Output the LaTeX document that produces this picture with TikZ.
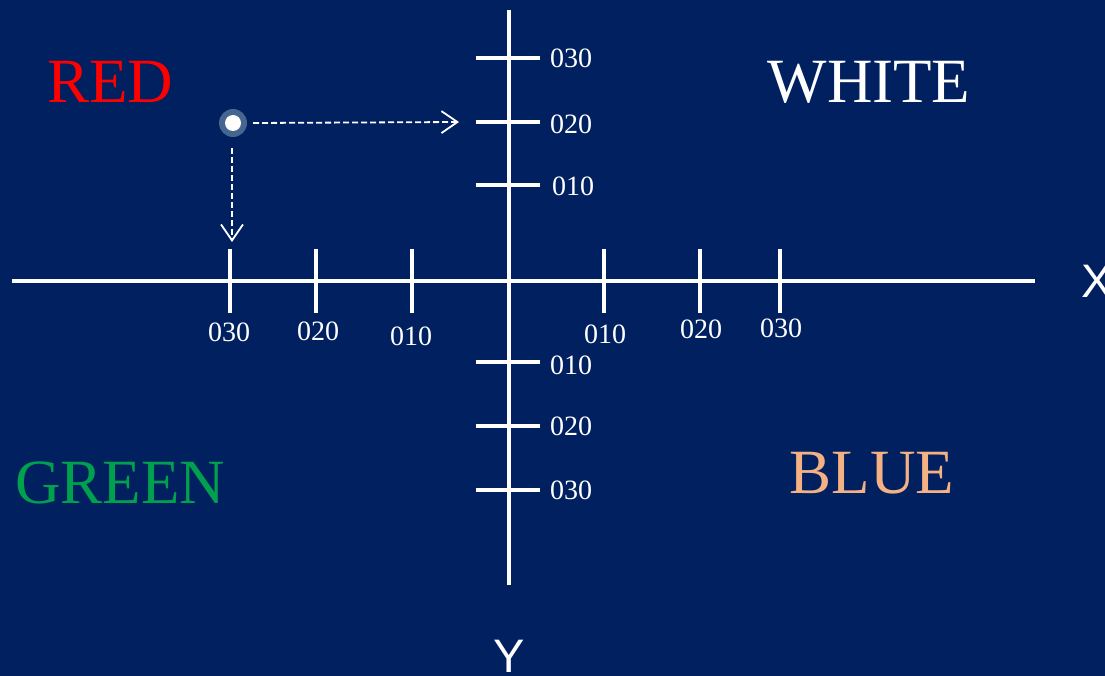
\documentclass[tikz,border=0pt]{standalone}
\usepackage{fontspec}
\setmainfont{Liberation Serif}
\newfontfamily\axisfont{Liberation Sans}
\usetikzlibrary{arrows.meta}
\definecolor{ChartNavy}{HTML}{002060}
\definecolor{ChartRed}{HTML}{FF0000}
\definecolor{ChartGreen}{HTML}{00A04E}
\definecolor{ChartPeach}{HTML}{F4B183}
\definecolor{ChartDotRing}{HTML}{46658F}
\tikzset{
  axisline/.style={draw=white,line width=3.4pt},
  tickmark/.style={draw=white,line width=3.2pt},
  ticklabel/.style={text=white,inner sep=0pt,font=\fontsize{28}{30}\selectfont},
  quadlabel/.style={inner sep=0pt,font=\fontsize{63}{66}\selectfont},
  axislabel/.style={text=white,inner sep=0pt,font=\axisfont\fontsize{47}{50}\selectfont},
  guidearrow/.style={draw=white,line width=1.8pt,dash pattern=on 6pt off 3pt,
    -{Straight Barb[length=16pt,width=22pt,line width=1.8pt]}}
}
\begin{document}
\begin{tikzpicture}[x=1pt,y=-1pt]
  % Canvas.
  \fill[ChartNavy] (0,0) rectangle (1105,676);
  \useasboundingbox (0,0) rectangle (1105,676);

  % Axes.
  \coordinate (xleft) at (12,281);
  \coordinate (xright) at (1035,281);
  \coordinate (ytop) at (509,10);
  \coordinate (ybottom) at (509,585);
  \draw[axisline] (xleft) -- (xright);
  \draw[axisline] (ytop) -- (ybottom);

  % Ticks on the horizontal axis.
  \draw[tickmark] (230,249) -- (230,313);
  \draw[tickmark] (316,249) -- (316,313);
  \draw[tickmark] (412,249) -- (412,313);
  \draw[tickmark] (604,249) -- (604,313);
  \draw[tickmark] (700,249) -- (700,313);
  \draw[tickmark] (780,249) -- (780,313);

  % Ticks on the vertical axis.
  \draw[tickmark] (476,58) -- (540,58);
  \draw[tickmark] (476,122) -- (540,122);
  \draw[tickmark] (476,185) -- (540,185);
  \draw[tickmark] (476,362) -- (540,362);
  \draw[tickmark] (476,426) -- (540,426);
  \draw[tickmark] (476,490) -- (540,490);

  % Tick values.
  \node[ticklabel] (xm3) at (229,332) {030};
  \node[ticklabel] (xm2) at (318,331) {020};
  \node[ticklabel] (xm1) at (411,336) {010};
  \node[ticklabel] (xp1) at (605,334) {010};
  \node[ticklabel] (xp2) at (701,329) {020};
  \node[ticklabel] (xp3) at (781,328) {030};
  \node[ticklabel] (yp3) at (571,58) {030};
  \node[ticklabel] (yp2) at (571,124) {020};
  \node[ticklabel] (yp1) at (573,186) {010};
  \node[ticklabel] (ym1) at (571,365) {010};
  \node[ticklabel] (ym2) at (571,426) {020};
  \node[ticklabel] (ym3) at (571,490) {030};

  % Quadrant names and axis names.
  \node[quadlabel,text=ChartRed] (red) at (110,82) {RED};
  \node[quadlabel,text=white] (white) at (869,82) {WHITE};
  \node[quadlabel,text=ChartGreen] (green) at (120,483) {GREEN};
  \node[quadlabel,text=ChartPeach] (blue) at (872,473) {BLUE};
  \node[axislabel,anchor=west] (xname) at (1081,281) {X};
  \node[axislabel,anchor=north] (yname) at (509,640) {Y};

  % Sample point and its projections.
  \node[circle,fill=ChartDotRing,minimum size=28pt,inner sep=0pt] (ring) at (233,123) {};
  \node[circle,fill=white,minimum size=16pt,inner sep=0pt] (dot) at (233,123) {};
  \coordinate (yhit) at (459,122);
  \coordinate (xhit) at (232,242);
  \draw[guidearrow] ([xshift=20pt]dot.center) -- (yhit);
  \draw[guidearrow] (232,148) -- (xhit);
\end{tikzpicture}
\end{document}
